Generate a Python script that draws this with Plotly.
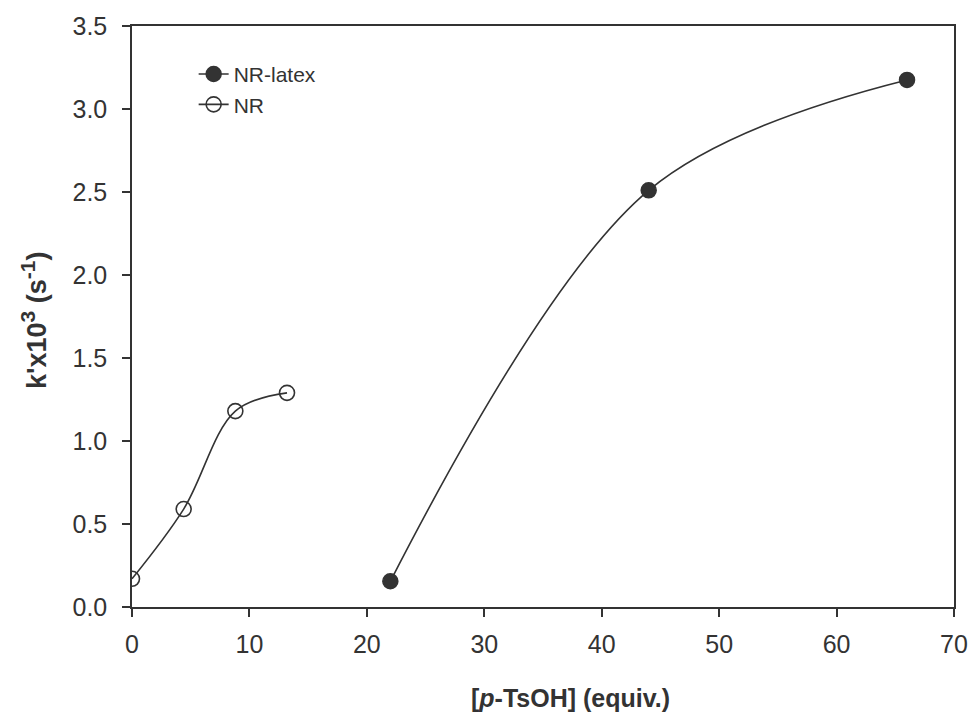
import plotly.graph_objects as go

# Data
latex_x = [22, 44, 66]
latex_y = [0.155, 2.51, 3.175]
nr_x = [0, 4.4, 8.8, 13.2]
nr_y = [0.17, 0.59, 1.18, 1.29]

x_ticks = [0, 10, 20, 30, 40, 50, 60, 70]
y_ticks = [0.0, 0.5, 1.0, 1.5, 2.0, 2.5, 3.0, 3.5]
y_tick_text = ["0.0", "0.5", "1.0", "1.5", "2.0", "2.5", "3.0", "3.5"]

ink = "#333333"
font_family = "Liberation Sans, Arial, sans-serif"

plot_l, plot_r, plot_t, plot_b = 132, 962, 26, 607
W, H = 980, 717


def px_x(p):
    return (p - plot_l) / (plot_r - plot_l)


def px_y(p):
    return (plot_b - p) / (plot_b - plot_t)


fig = go.Figure()
fig.add_trace(go.Scatter(
    x=latex_x, y=latex_y, name="NR-latex", mode="lines+markers",
    line=dict(color=ink, width=1.6, shape="spline", smoothing=1.0),
    marker=dict(symbol="circle", size=15, color=ink, line=dict(color=ink, width=1.5)),
))
fig.add_trace(go.Scatter(
    x=nr_x, y=nr_y, name="NR", mode="lines+markers",
    line=dict(color=ink, width=1.6, shape="spline", smoothing=1.0),
    marker=dict(symbol="circle-open", size=15, color=ink, line=dict(color=ink, width=1.6)),
))

fig.update_layout(
    width=W, height=H,
    margin=dict(l=plot_l, r=W - plot_r, t=plot_t, b=H - plot_b),
    paper_bgcolor="white", plot_bgcolor="white",
    font=dict(family=font_family, color=ink, size=22),
    showlegend=True,
    legend=dict(x=0.075, y=0.952, xanchor="left", yanchor="top",
                bgcolor="rgba(0,0,0,0)", font=dict(size=21, color=ink),
                tracegroupgap=0),
    annotations=[
        dict(text="<b>[<i>p</i>-TsOH] (equiv.)</b>", x=px_x(575), y=px_y(698),
             xref="paper", yref="paper", showarrow=False,
             font=dict(size=25, color=ink), xanchor="center", yanchor="middle"),
        dict(text="<b>k'x10<sup><span style='font-size:21px'>3</span></sup> (s<sup><span style='font-size:21px'>-1</span></sup>)</b>",
             x=px_x(33), y=px_y(320), xref="paper", yref="paper", showarrow=False,
             textangle=-90, font=dict(size=27, color=ink),
             xanchor="center", yanchor="middle"),
    ],
)

fig.update_xaxes(
    range=[0, 70], tickvals=x_ticks, ticktext=[str(v) for v in x_ticks],
    showgrid=False, zeroline=False,
    showline=True, linecolor=ink, linewidth=1.5, mirror=True,
    ticks="outside", ticklen=8, tickwidth=1.5, tickcolor=ink,
    tickfont=dict(size=25, color=ink), ticklabelstandoff=6,
)
fig.update_yaxes(
    range=[0, 3.5], tickvals=y_ticks, ticktext=y_tick_text,
    showgrid=False, zeroline=False,
    showline=True, linecolor=ink, linewidth=1.5, mirror=True,
    ticks="outside", ticklen=8, tickwidth=1.5, tickcolor=ink,
    tickfont=dict(size=25, color=ink), ticklabelstandoff=10,
)

fig.write_html("out.html")
